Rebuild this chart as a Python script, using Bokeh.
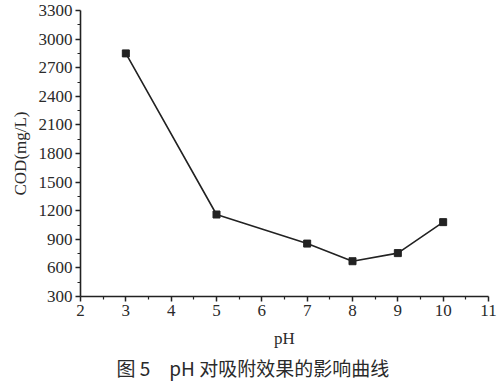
from bokeh.plotting import figure
from bokeh.models import FixedTicker, Range1d, Title
from bokeh.embed import file_html
from bokeh.resources import INLINE

ph = [3, 5, 7, 8, 9, 10]
cod = [2850, 1160, 855, 670, 755, 1080]
x_ticks = [2, 3, 4, 5, 6, 7, 8, 9, 10, 11]
x_minor = [2.5, 3.5, 4.5, 5.5, 6.5, 7.5, 8.5, 9.5, 10.5]
y_ticks = [300, 600, 900, 1200, 1500, 1800, 2100, 2400, 2700, 3000, 3300]
y_minor = [450, 750, 1050, 1350, 1650, 1950, 2250, 2550, 2850, 3150]
caption = "图 5　pH 对吸附效果的影响曲线"

p = figure(width=504, height=381, output_backend="svg", toolbar_location=None,
           x_range=Range1d(2, 11), y_range=Range1d(300, 3300),
           min_border_left=80, min_border_right=16, min_border_top=10, min_border_bottom=10)
p.outline_line_color = None
p.grid.visible = False
p.background_fill_color = "white"
p.border_fill_color = "white"

p.line(ph, cod, line_color="#222222", line_width=1.6)
p.scatter(ph, cod, marker="square", size=7, fill_color="#222222", line_color="#222222")

serif = "Liberation Serif"
p.xaxis.ticker = FixedTicker(ticks=x_ticks, minor_ticks=x_minor)
p.yaxis.ticker = FixedTicker(ticks=y_ticks, minor_ticks=y_minor)
p.xaxis.axis_label = "pH"
p.yaxis.axis_label = "COD(mg/L)"
for ax in (p.xaxis[0], p.yaxis[0]):
    ax.axis_line_color = "#222222"
    ax.axis_line_width = 1.6
    ax.major_tick_line_color = "#222222"
    ax.minor_tick_line_color = "#222222"
    ax.major_tick_line_width = 1.5
    ax.minor_tick_line_width = 1.2
    ax.major_tick_out = 5
    ax.major_tick_in = 0
    ax.minor_tick_out = 3
    ax.minor_tick_in = 0
    ax.major_label_text_font = serif
    ax.major_label_text_font_size = "17px"
    ax.major_label_text_color = "#2a2a2a"
    ax.axis_label_text_font = serif
    ax.axis_label_text_font_size = "17px"
    ax.axis_label_text_font_style = "normal"
    ax.axis_label_text_color = "#2a2a2a"
    ax.major_label_standoff = 3
p.xaxis.axis_label_standoff = 10
p.yaxis.axis_label_standoff = 6

p.add_layout(Title(text=caption, align="left", offset=36, text_font="Noto Sans CJK SC",
                   text_font_size="19px", text_font_style="normal", text_color="#2a2a2a",
                   standoff=2), "below")

open("out.html", "w").write(file_html(p, INLINE))
